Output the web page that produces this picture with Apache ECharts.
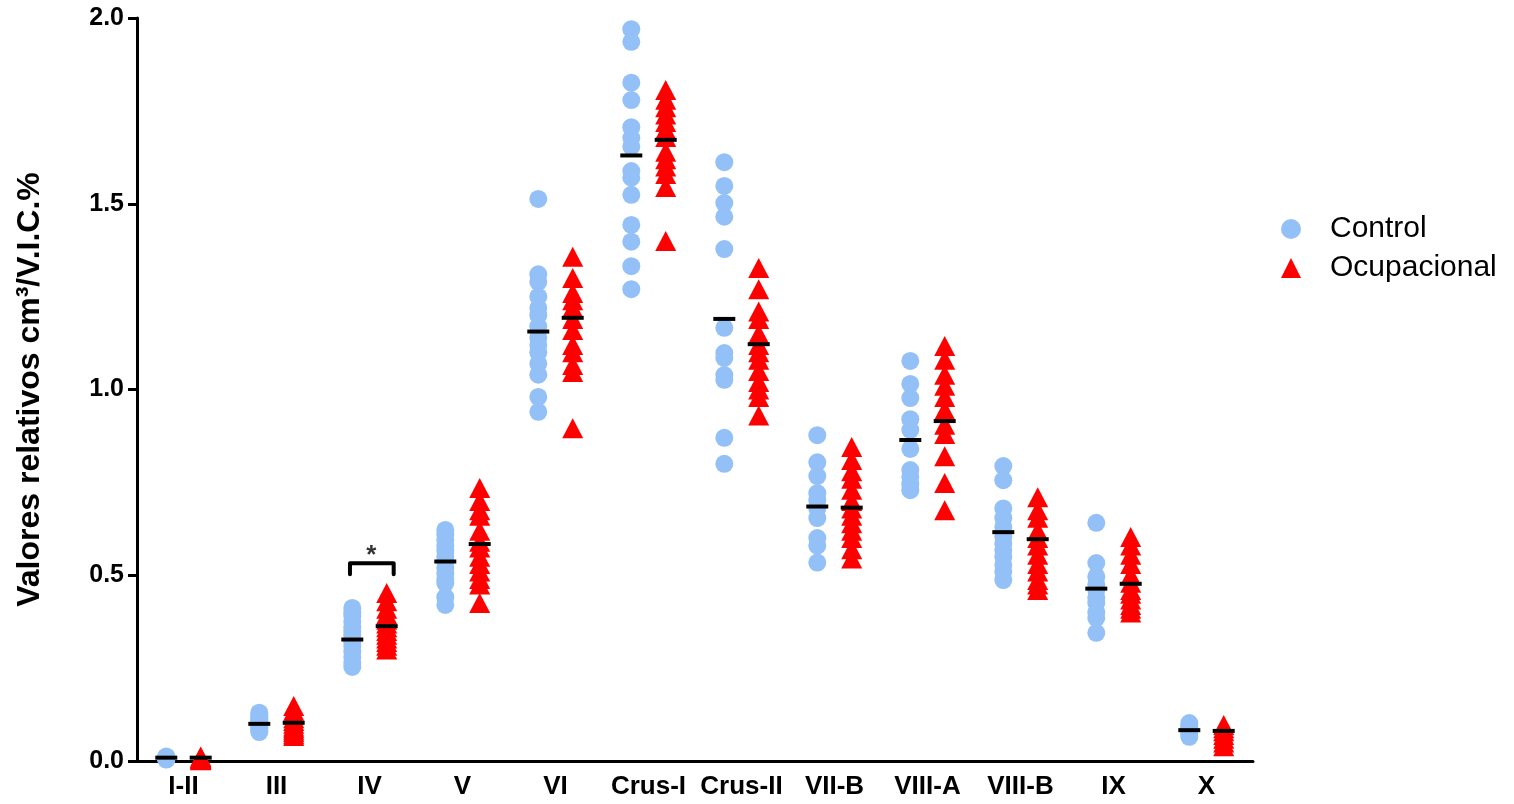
<!DOCTYPE html>
<html>
<head>
<meta charset="utf-8">
<title>Valores relativos</title>
<script src="https://cdn.jsdelivr.net/npm/echarts@6/dist/echarts.min.js"></script>
<style>
  html, body { margin: 0; padding: 0; background: #fff; }
  #chart { width: 1514px; height: 804px; }
</style>
</head>
<body>
<div id="chart"></div>
<script>
var categories = ['I-II', 'III', 'IV', 'V', 'VI', 'Crus-I', 'Crus-II', 'VII-B', 'VIII-A', 'VIII-B', 'IX', 'X'];
var yTicks = [0, 0.5, 1.0, 1.5, 2.0];

// individual values per lobule
var controlValues = [
  [0.004, 0.006, 0.008, 0.010, 0.012, 0.007, 0.009, 0.005, 0.011, 0.008],
  [0.078, 0.082, 0.088, 0.092, 0.097, 0.100, 0.104, 0.108, 0.112, 0.118, 0.124, 0.130],
  [0.253, 0.265, 0.280, 0.295, 0.310, 0.320, 0.330, 0.340, 0.350, 0.360, 0.375, 0.390, 0.400, 0.412],
  [0.420, 0.441, 0.479, 0.490, 0.505, 0.520, 0.535, 0.550, 0.565, 0.580, 0.595, 0.610, 0.622],
  [0.940, 0.980, 1.040, 1.070, 1.100, 1.120, 1.140, 1.170, 1.200, 1.220, 1.250, 1.290, 1.310, 1.513],
  [1.270, 1.332, 1.398, 1.443, 1.524, 1.570, 1.588, 1.654, 1.677, 1.706, 1.779, 1.826, 1.936, 1.970],
  [0.800, 0.870, 1.026, 1.039, 1.085, 1.098, 1.166, 1.378, 1.465, 1.502, 1.548, 1.612],
  [0.534, 0.580, 0.600, 0.654, 0.680, 0.702, 0.721, 0.767, 0.804, 0.877],
  [0.729, 0.745, 0.765, 0.783, 0.840, 0.891, 0.920, 0.977, 1.015, 1.077],
  [0.487, 0.510, 0.528, 0.550, 0.568, 0.585, 0.604, 0.630, 0.654, 0.680, 0.756, 0.794],
  [0.345, 0.385, 0.400, 0.425, 0.440, 0.460, 0.475, 0.496, 0.533, 0.641],
  [0.065, 0.072, 0.080, 0.088, 0.095, 0.102]
];
var ocupValues = [
  [0.002, 0.004, 0.006, 0.008, 0.010, 0.005, 0.007, 0.003, 0.009, 0.012],
  [0.067, 0.072, 0.078, 0.083, 0.088, 0.093, 0.100, 0.108, 0.115, 0.125, 0.135, 0.148],
  [0.300, 0.310, 0.320, 0.330, 0.340, 0.350, 0.360, 0.370, 0.380, 0.395, 0.410, 0.430, 0.452],
  [0.425, 0.475, 0.490, 0.510, 0.530, 0.550, 0.575, 0.590, 0.620, 0.660, 0.675, 0.700, 0.735],
  [0.896, 1.047, 1.066, 1.100, 1.120, 1.160, 1.190, 1.220, 1.240, 1.260, 1.300, 1.357],
  [1.400, 1.545, 1.580, 1.600, 1.620, 1.640, 1.680, 1.700, 1.720, 1.740, 1.760, 1.780, 1.806],
  [0.930, 0.980, 1.000, 1.020, 1.050, 1.080, 1.100, 1.120, 1.150, 1.190, 1.210, 1.270, 1.327],
  [0.545, 0.570, 0.600, 0.620, 0.640, 0.660, 0.680, 0.700, 0.730, 0.760, 0.780, 0.810, 0.845],
  [0.675, 0.748, 0.820, 0.880, 0.905, 0.945, 0.980, 1.010, 1.040, 1.080, 1.117],
  [0.460, 0.475, 0.487, 0.510, 0.530, 0.555, 0.580, 0.600, 0.620, 0.655, 0.675, 0.710],
  [0.400, 0.410, 0.420, 0.435, 0.450, 0.460, 0.480, 0.500, 0.530, 0.555, 0.580, 0.603],
  [0.040, 0.050, 0.060, 0.070, 0.080, 0.088, 0.097]
];
var controlMean = [0.009, 0.100, 0.327, 0.537, 1.156, 1.630, 1.190, 0.685, 0.864, 0.616, 0.464, 0.083];
var ocupMean    = [0.009, 0.103, 0.363, 0.584, 1.193, 1.672, 1.122, 0.682, 0.915, 0.597, 0.477, 0.081];

// significance bracket on lobule IV
var sigIndex = 2;
var sigBracket = [[-0.21, 0.503], [-0.21, 0.532], [0.26, 0.532], [0.26, 0.503]];
var sigStar = [0.02, 0.552];

var offset = 0.185;
var blue = '#93c1f7';
var red = '#ff0000';
var font = 'Liberation Sans, Arial, sans-serif';

function points(values, shift) {
  var out = [];
  values.forEach(function (list, i) {
    list.forEach(function (v) { out.push([i + shift, v]); });
  });
  return out;
}
function meanPoints(means, shift) {
  return means.map(function (v, i) { return [i + shift, v]; });
}

var chart = echarts.init(document.getElementById('chart'));
var option = {
  animation: false,
  textStyle: { fontFamily: font },
  grid: { left: 137, right: 261, top: 18, bottom: 43 },
  legend: {
    data: [
      { name: 'Control', icon: 'circle' },
      { name: 'Ocupacional', icon: 'triangle' }
    ],
    orient: 'vertical',
    left: 1276,
    top: 209,
    itemWidth: 20,
    itemHeight: 20,
    itemGap: 9,
    selectedMode: false,
    textStyle: { fontSize: 30, color: '#000', fontFamily: font, padding: [0, 0, 0, 24] }
  },
  xAxis: [
    {
      type: 'category',
      data: categories,
      axisLine: { lineStyle: { color: '#000', width: 3 } },
      axisTick: { alignWithLabel: true, length: 9, lineStyle: { color: '#000', width: 3 } },
      axisLabel: { interval: 0, color: '#000', fontSize: 26, fontWeight: 'bold', margin: 13, fontFamily: font },
      splitLine: { show: false }
    },
    {
      type: 'value',
      min: -0.5,
      max: 11.5,
      show: false
    }
  ],
  yAxis: {
    type: 'value',
    min: 0,
    max: 2,
    interval: 0.5,
    name: 'Valores relativos cm³/V.I.C.%',
    nameLocation: 'middle',
    nameRotate: 90,
    nameGap: 91,
    nameTextStyle: { color: '#000', fontSize: 32, fontWeight: 'bold', fontFamily: font },
    axisLine: { show: true, onZero: false, lineStyle: { color: '#000', width: 3 } },
    axisTick: { show: true, length: 9, lineStyle: { color: '#000', width: 3 } },
    axisLabel: {
      color: '#000', fontSize: 25, fontWeight: 'bold', margin: 13, fontFamily: font,
      formatter: function (v) { return v.toFixed(1); }
    },
    splitLine: { show: false }
  },
  series: [
    {
      name: 'Control',
      type: 'scatter',
      xAxisIndex: 1,
      symbol: 'circle',
      symbolSize: 18,
      itemStyle: { color: blue, opacity: 1 },
      data: points(controlValues, -offset),
      z: 2
    },
    {
      name: 'Ocupacional',
      type: 'scatter',
      xAxisIndex: 1,
      symbol: 'triangle',
      symbolSize: [21, 20],
      itemStyle: { color: red, opacity: 1 },
      data: points(ocupValues, offset),
      z: 2
    },
    {
      name: 'Media control',
      type: 'scatter',
      xAxisIndex: 1,
      symbol: 'rect',
      symbolSize: [22, 4],
      itemStyle: { color: '#000', opacity: 1 },
      data: meanPoints(controlMean, -offset),
      z: 3
    },
    {
      name: 'Media ocupacional',
      type: 'scatter',
      xAxisIndex: 1,
      symbol: 'rect',
      symbolSize: [22, 4],
      itemStyle: { color: '#000', opacity: 1 },
      data: meanPoints(ocupMean, offset),
      z: 3
    },
    {
      name: 'Significancia',
      type: 'line',
      xAxisIndex: 1,
      symbol: 'none',
      silent: true,
      lineStyle: { color: '#000', width: 4, cap: 'round', join: 'round' },
      data: sigBracket.map(function (p) { return [sigIndex + p[0], p[1]]; }),
      z: 3
    },
    {
      name: 'Asterisco',
      type: 'scatter',
      xAxisIndex: 1,
      symbolSize: 0,
      silent: true,
      label: {
        show: true,
        position: 'inside',
        formatter: '*',
        color: '#000',
        fontSize: 26,
        fontWeight: 'bold',
        fontFamily: font
      },
      data: [[sigIndex + sigStar[0], sigStar[1]]],
      z: 3
    }
  ]
};
chart.setOption(option);
</script>
</body>
</html>
